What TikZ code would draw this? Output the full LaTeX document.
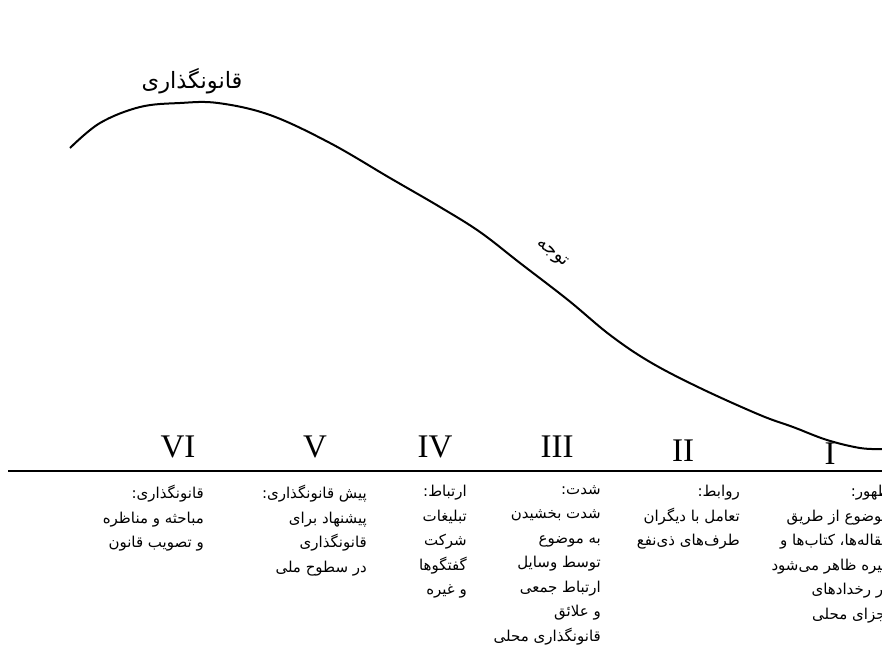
\documentclass[tikz,border=0pt]{standalone}
\usepackage{fontspec}
\newfontfamily\arabicfont[Script=Arabic]{DejaVu Sans}
\newfontfamily\romanfont{Liberation Serif}
\TeXXeTstate=1
\newcommand{\fa}[1]{\beginR #1\endR}

\begin{document}
\begin{tikzpicture}[x=1pt, y=-1pt,
    stage/.style={font=\romanfont\fontsize{33}{33}\selectfont, anchor=base, inner sep=0pt},
    note/.style={font=\arabicfont\fontsize{15}{24.5}\selectfont, align=right, anchor=north east, inner sep=0pt},
    curvelabel/.style={font=\arabicfont\fontsize{22.5}{22.5}\selectfont, inner sep=0pt}
]
\useasboundingbox (0,0) rectangle (882,653);

% axis and curve
\coordinate (axisL) at (8,471);
\coordinate (axisR) at (882,471);
\draw[line width=2.6pt] (axisL) -- (axisR);
\draw[line width=2pt, line join=round] plot[smooth, tension=0.6] coordinates {(70,148) (100,123) (140,107) (180,103) (218,103) (270,115) (330,143) (390,178) (440,207) (480,232) (520,263) (568,300) (610,335) (650,362) (700,388) (760,415) (793,427) (827,440) (860,448) (882,449)};

\node[curvelabel] (law) at (192,81) {\fa{قانونگذاری}};
\node[curvelabel, rotate=-38, font=\arabicfont\fontsize{18}{18}\selectfont] (attn) at (552,254) {\fa{توجه}};

% stages
\node[stage] (s6) at (178,457) {VI};
\node[stage] (s5) at (315,457) {V};
\node[stage] (s4) at (435,457) {IV};
\node[stage] (s3) at (557,457) {III};
\node[stage] (s2) at (683,461) {II};
\node[stage] (s1) at (830,464) {I};

% notes under the axis
\node[note] (n6) at (204,485) {\fa{قانونگذاری:}\\ \fa{مباحثه و مناظره}\\ \fa{و تصویب قانون}};
\node[note] (n5) at (367,485) {\fa{پیش قانونگذاری:}\\ \fa{پیشنهاد برای}\\ \fa{قانونگذاری}\\ \fa{در سطوح ملی}};
\node[note] (n4) at (467,485) {\fa{ارتباط:}\\ \fa{تبلیغات}\\ \fa{شرکت}\\ \fa{گفتگوها}\\ \fa{و غیره}};
\node[note] (n3) at (601,485) {\fa{شدت:}\\ \fa{شدت بخشیدن}\\ \fa{به موضوع}\\ \fa{توسط وسایل}\\ \fa{ارتباط جمعی}\\ \fa{و علائق}\\ \fa{قانونگذاری محلی}};
\node[note] (n2) at (740,485) {\fa{روابط:}\\ \fa{تعامل با دیگران}\\ \fa{طرف‌های ذی‌نفع}};
\node[note] (n1) at (890,485) {\fa{ظهور:}\\ \fa{موضوع از طریق}\\ \fa{مقاله‌ها، کتاب‌ها و}\\ \fa{غیره ظاهر می‌شود}\\ \fa{در رخدادهای}\\ \fa{اجزای محلی}};
\end{tikzpicture}
\end{document}
